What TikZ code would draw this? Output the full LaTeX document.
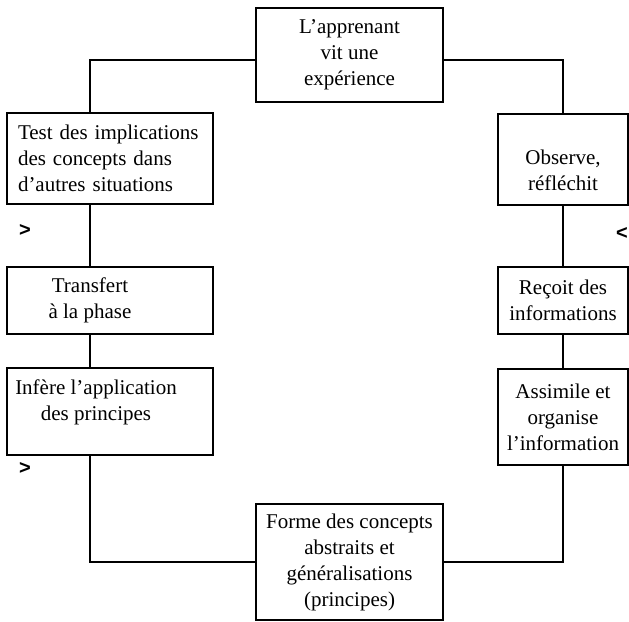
\documentclass[tikz,border=0pt]{standalone}
\usepackage{fontspec}
\setmainfont{Liberation Serif}
\setsansfont{Liberation Sans}

\begin{document}
\begin{tikzpicture}[x=1pt, y=-1pt,
  texte/.style={align=center, font=\fontsize{21}{26}\selectfont},
  etape/.style={texte, draw, line width=1.3pt, inner sep=0pt},
  lien/.style={line width=1.3pt},
  fleche/.style={font=\fontsize{20}{20}\selectfont\sffamily\bfseries}]
\useasboundingbox (0,0) rectangle (629,621);
% les huit etapes du cycle
\node [etape, minimum width=187, minimum height=94] (experience) at (349.5,55) {L'apprenant\\vit une\\expérience};
\node [etape, minimum width=130, minimum height=91, label={[texte, yshift=-11]center:Observe,\\réfléchit}] (observe) at (563,159.5) {};
\node [etape, minimum width=130, minimum height=67] (recoit) at (563,300.5) {Reçoit des\\informations};
\node [etape, minimum width=130, minimum height=96] (assimile) at (563,417) {Assimile et\\organise\\l'information};
\node [etape, minimum width=187, minimum height=116] (forme) at (349.5,562) {Forme des concepts\\abstraits et\\généralisations\\(principes)};
\node [etape, minimum width=206, minimum height=87, label={[texte, xshift=-14, yshift=9]center:Infère l'application\\des principes}] (infere) at (110,411.5) {};
\node [etape, minimum width=206, minimum height=67, label={[texte, xshift=-20]center:Transfert\\à la phase}] (transfert) at (110,300.5) {};
\node [etape, minimum width=206, minimum height=91, text width=184, align=left] (test) at (110,158.5) {Test des implications\\des concepts dans\\d'autres situations};
% liaisons
\draw [lien] ([yshift=-5pt]experience.west) -| ([xshift=-20pt]test.north);
\draw [lien] ([xshift=-20pt]test.south) -- ([xshift=-20pt]transfert.north);
\draw [lien] ([xshift=-20pt]transfert.south) -- ([xshift=-20pt]infere.north);
\draw [lien] ([xshift=-20pt]infere.south) |- (forme.west);
\draw [lien] (forme.east) -| (assimile.south);
\draw [lien] (assimile.north) -- (recoit.south);
\draw [lien] (recoit.north) -- (observe.south);
\draw [lien] (observe.north) |- ([yshift=-5pt]experience.east);
% sens du cycle
\foreach \sym/\px/\py in {>/25/230, >/25/468, </622/233}
  { \node [fleche] (sens\py) at (\px,\py) {\sym}; }
\end{tikzpicture}
\end{document}
